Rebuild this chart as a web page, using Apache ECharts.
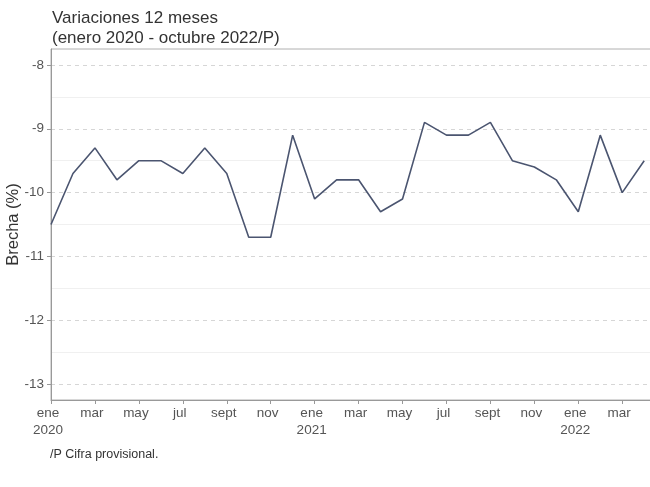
<!DOCTYPE html>
<html>
<head>
<meta charset="utf-8">
<script src="https://cdn.jsdelivr.net/npm/echarts@6/dist/echarts.min.js"></script>
<style>
html,body{margin:0;padding:0;background:#fff;}
#chart{width:650px;height:487px;}
</style>
</head>
<body>
<div id="chart"></div>
<script>
// Months from ene 2020 to oct 2022
const monthNames = ['ene','feb','mar','abr','may','jun','jul','ago','sept','oct','nov','dic'];
const years = [2020, 2021, 2022];
const lastMonthIndex2022 = 9; // octubre

// Brecha (%) - variaciones 12 meses (later months are outside the visible area)
const values2020 = [-10.5, -9.7, -9.3, -9.8, -9.5, -9.5, -9.7, -9.3, -9.7, -10.7, -10.7, -9.1];
const values2021 = [-10.1, -9.8, -9.8, -10.3, -10.1, -8.9, -9.1, -9.1, -8.9, -9.5, -9.6, -9.8];
const values2022 = [-10.3, -9.1, -10.0, -9.5, null, null, null, null, null, null];

const yTicks = [-13, -12, -11, -10, -9, -8];

const titleText = 'Variaciones 12 meses\n(enero 2020 - octubre 2022/P)';
const yAxisName = 'Brecha (%)';
const footnote = '/P Cifra provisional.';

const categories = [];
years.forEach(function (y) {
  const n = (y === 2022) ? lastMonthIndex2022 + 1 : 12;
  for (let m = 0; m < n; m++) {
    categories.push(m === 0 ? monthNames[m] + '\n' + y : monthNames[m]);
  }
});
const values = values2020.concat(values2021, values2022);

const chart = echarts.init(document.getElementById('chart'), null, {renderer: 'canvas'});
const font = 'Liberation Sans, Arial, sans-serif';
chart.setOption({
  animation: false,
  backgroundColor: '#ffffff',
  textStyle: {fontFamily: font},
  title: [{
    text: titleText,
    left: 47,
    top: 3,
    textStyle: {fontSize: 17, fontWeight: 'normal', color: '#333', lineHeight: 20, fontFamily: font}
  }, {
    text: footnote,
    left: 45,
    top: 443,
    textStyle: {fontSize: 12.5, fontWeight: 'normal', color: '#333', fontFamily: font}
  }],
  grid: {
    left: 51, right: -126, top: 49, bottom: 87,
    containLabel: false,
    outerBoundsMode: 'none',
    show: true, borderColor: '#b0b0b0', borderWidth: 1, backgroundColor: 'transparent'
  },
  xAxis: {
    type: 'category',
    data: categories,
    boundaryGap: false,
    axisLine: {lineStyle: {color: '#999', width: 1}},
    axisTick: {show: true, interval: 1, length: 4, lineStyle: {color: '#999'}},
    axisLabel: {interval: 1, color: '#555', fontSize: 13.5, lineHeight: 17, margin: 5, padding: [0, 6, 0, 0], fontFamily: font},
    splitLine: {show: false}
  },
  yAxis: {
    type: 'value',
    min: -13.25,
    max: -7.75,
    splitNumber: 5,
    name: yAxisName,
    nameLocation: 'middle',
    nameGap: 29,
    nameMoveOverlap: false,
    nameTextStyle: {fontSize: 16.5, color: '#333', fontFamily: font},
    axisLine: {show: true, lineStyle: {color: '#999', width: 1}},
    axisTick: {show: true, length: 4, lineStyle: {color: '#999'}, customValues: yTicks},
    axisLabel: {color: '#555', fontSize: 13.5, margin: 7, customValues: yTicks, fontFamily: font},
    splitLine: {show: true, lineStyle: {color: '#d6d6d6', type: [4, 4], width: 1}},
    minorTick: {show: false, splitNumber: 2},
    minorSplitLine: {show: true, lineStyle: {color: '#f0f0f0', width: 1}}
  },
  series: [{
    type: 'line',
    data: values,
    showSymbol: false,
    symbol: 'none',
    lineStyle: {color: '#4b5570', width: 1.6},
    connectNulls: false
  }]
});
</script>
</body>
</html>
